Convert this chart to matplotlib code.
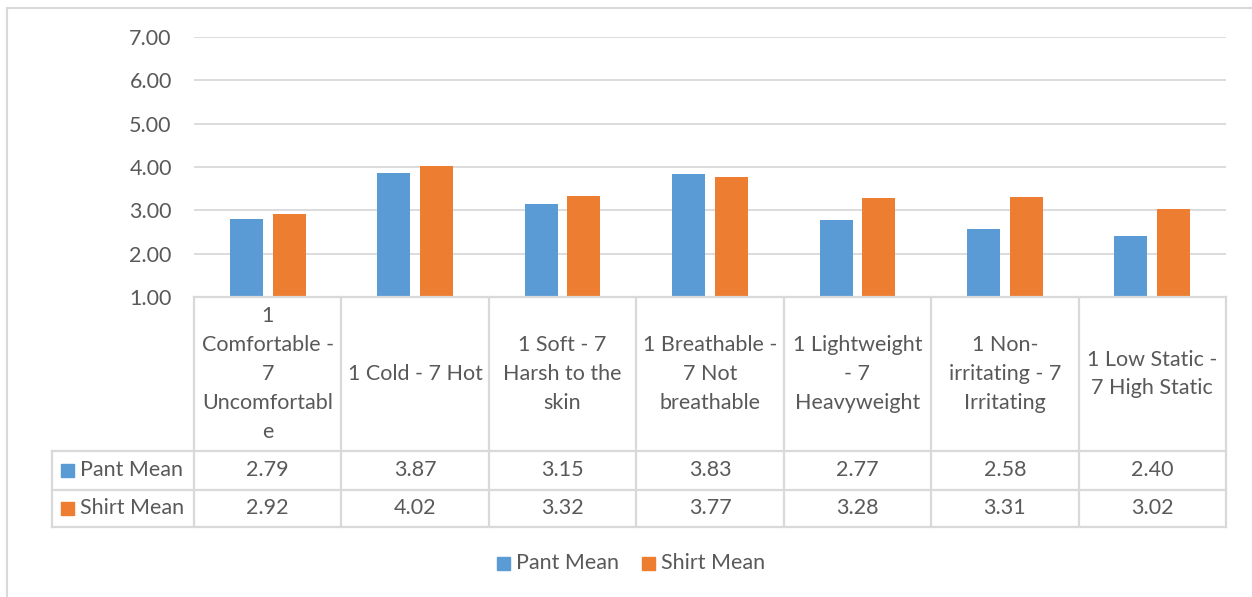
import matplotlib
matplotlib.use("Agg")
import matplotlib.pyplot as plt
from matplotlib.lines import Line2D
from matplotlib.patches import Rectangle
from matplotlib.transforms import blended_transform_factory

plt.rcParams['font.family'] = ['Lato', 'DejaVu Sans']

categories = [
    "1\nComfortable -\n7\nUncomfortabl\ne",
    "1 Cold - 7 Hot",
    "1 Soft - 7\nHarsh to the\nskin",
    "1 Breathable -\n7 Not\nbreathable",
    "1 Lightweight\n- 7\nHeavyweight",
    "1 Non-\nirritating - 7\nIrritating",
    "1 Low Static -\n7 High Static",
]
pant_mean = [2.79, 3.87, 3.15, 3.83, 2.77, 2.58, 2.40]
shirt_mean = [2.92, 4.02, 3.32, 3.77, 3.28, 3.31, 3.02]
series_names = ["Pant Mean", "Shirt Mean"]
y_ticks = [1, 2, 3, 4, 5, 6, 7]

BLUE = "#5B9BD5"
ORANGE = "#ED7D31"
TEXT = "#595959"
GRID = "#D9D9D9"
FS = 15.5

W, H = 1252, 597
fig = plt.figure(figsize=(W / 100, H / 100), dpi=100)

def fx(px):
    return px / W

def fy(py):
    return 1 - py / H

# plot area
x0, x1 = 194, 1226
ytop, ybot = 37, 297
ax = fig.add_axes([fx(x0), fy(ybot), fx(x1) - fx(x0), fy(ytop) - fy(ybot)])
ax.set_xlim(-0.5, len(categories) - 0.5)
ax.set_ylim(y_ticks[0], y_ticks[-1])
for s in ax.spines.values():
    s.set_visible(False)
ax.set_xticks([])
ax.set_yticks(y_ticks)
ax.set_yticklabels([f"{v:.2f}" for v in y_ticks], color=TEXT, fontsize=FS)
ax.tick_params(axis='y', length=0, pad=16)
ax.grid(axis='y', color=GRID, linewidth=1.3)
ax.set_axisbelow(True)

bw = 0.224
off = 0.145
xs = list(range(len(categories)))
ax.bar([x - off for x in xs], [v - 1 for v in pant_mean], bw, bottom=1,
       color=BLUE, zorder=3)
ax.bar([x + off for x in xs], [v - 1 for v in shirt_mean], bw, bottom=1,
       color=ORANGE, zorder=3)

# data table below the plot area
row_tops = [297, 451, 490, 527]
tleft = 52
lc = GRID
lw = 1.6

def hline(xa, xb, y):
    fig.add_artist(Line2D([fx(xa), fx(xb)], [fy(y), fy(y)], color=lc, lw=lw))

def vline(x, ya, yb, transform=None):
    if transform is None:
        fig.add_artist(Line2D([fx(x), fx(x)], [fy(ya), fy(yb)], color=lc, lw=lw))
    else:
        ax.add_line(Line2D([x, x], [fy(ya), fy(yb)], color=lc, lw=lw,
                           transform=transform, clip_on=False))

bt = blended_transform_factory(ax.transData, fig.transFigure)

hline(x0, x1, row_tops[0])
for y in row_tops[1:]:
    hline(tleft, x1, y)
vline(tleft, row_tops[1], row_tops[3])
for k in range(len(categories) + 1):
    vline(k - 0.5, row_tops[0], row_tops[3], transform=bt)

# category labels
for i, c in enumerate(categories):
    ax.text(i, fy((row_tops[0] + row_tops[1]) / 2), c, transform=bt,
            ha='center', va='center', color=TEXT, fontsize=FS,
            linespacing=1.55, multialignment='center')

# value rows
for r, (vals, col, name) in enumerate(zip([pant_mean, shirt_mean], [BLUE, ORANGE], series_names)):
    yc = (row_tops[r + 1] + row_tops[r + 2]) / 2
    for i, v in enumerate(vals):
        ax.text(i, fy(yc), f"{v:.2f}", transform=bt, ha='center', va='center',
                color=TEXT, fontsize=FS)
    fig.add_artist(Rectangle((fx(61), fy(yc + 6.5)), fx(13), 13 / H,
                             color=col, transform=fig.transFigure))
    fig.text(fx(80), fy(yc), name, ha='left', va='center', color=TEXT, fontsize=FS)

# legend
ly = 563
for sx, col, name in [(497, BLUE, series_names[0]), (642, ORANGE, series_names[1])]:
    fig.add_artist(Rectangle((fx(sx), fy(ly + 6.5)), fx(13), 13 / H,
                             color=col, transform=fig.transFigure))
    fig.text(fx(sx + 19), fy(ly), name, ha='left', va='center', color=TEXT, fontsize=FS)

# chart frame
fig.add_artist(Line2D([fx(7), fx(7)], [fy(8), 0], color=GRID, lw=1.5))
fig.add_artist(Line2D([fx(7), 1], [fy(8), fy(8)], color=GRID, lw=1.5))

fig.savefig("out.png", dpi=100)
